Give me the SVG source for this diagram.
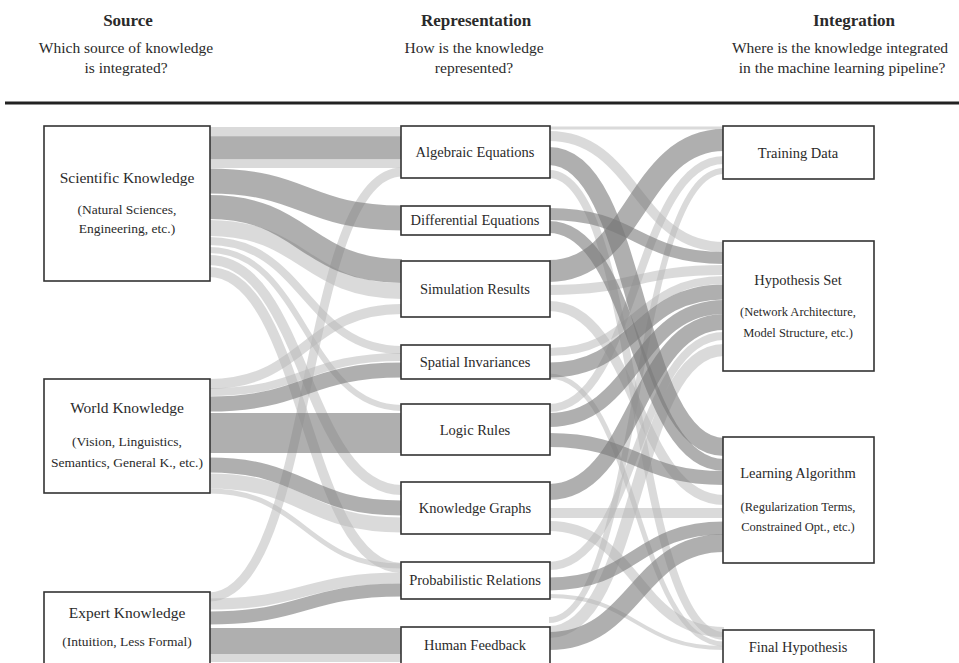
<svg xmlns="http://www.w3.org/2000/svg" width="959" height="663" viewBox="0 0 959 663">
<style>
text{font-family:"Liberation Serif","DejaVu Serif",serif;fill:#2a2a2a;text-anchor:middle}
.h{font-size:17px;font-weight:bold}
.s{font-size:15.5px}
.t{font-size:15.5px}
.m{font-size:14.5px}
.sub{font-size:12.5px}
.subl{font-size:13.5px}
.box{fill:#fff;stroke:#333;stroke-width:1.6}
.d{fill:none;stroke:#7a7a7a;stroke-opacity:0.6}
.l{fill:none;stroke:#b5b5b5;stroke-opacity:0.5}
</style>
<rect width="959" height="663" fill="#fff"/>
<g id="header">
<text class="h" x="128" y="26">Source</text>
<text class="s" x="126" y="53">Which source of knowledge</text>
<text class="s" x="126" y="73">is integrated?</text>
<text class="h" x="476" y="26">Representation</text>
<text class="s" x="474" y="53">How is the knowledge</text>
<text class="s" x="474" y="73">represented?</text>
<text class="h" x="854" y="26">Integration</text>
<text class="s" x="840" y="53">Where is the knowledge integrated</text>
<text class="s" x="842" y="73">in the machine learning pipeline?</text>
<line x1="5" y1="103" x2="959" y2="103" stroke="#222" stroke-width="3"/>
</g>
<g id="connectors">
<!-- left light -->
<path class="l" stroke-width="10" d="M209 132 L402 132"/>
<path class="l" stroke-width="8" d="M209 164 L402 164"/>
<path class="l" stroke-width="16" d="M209 228 C305 228 305 291 402 291"/>
<path class="l" stroke-width="8" d="M209 241 C305 241 305 350 402 350"/>
<path class="l" stroke-width="6" d="M209 250 C305 250 305 408 402 408"/>
<path class="l" stroke-width="10" d="M209 260 C305 260 305 490 402 490"/>
<path class="l" stroke-width="10" d="M209 272 C305 272 305 568 402 568"/>
<path class="l" stroke-width="10" d="M209 384 C305 384 305 309 402 309"/>
<path class="l" stroke-width="8" d="M209 392 C305 392 305 357 402 357"/>
<path class="l" stroke-width="15" d="M209 481 C305 481 305 525 402 525"/>
<path class="l" stroke-width="5" d="M209 491 C305 491 305 566 402 566"/>
<path class="l" stroke-width="9" d="M209 597 C315 597 300 172 402 172"/>
<path class="l" stroke-width="11" d="M209 604 C305 604 305 578 402 578"/>
<path class="l" stroke-width="8" d="M209 658 L402 658"/>
<!-- right light -->
<path class="l" stroke-width="3" d="M549 128 L724 128"/>
<path class="l" stroke-width="10" d="M549 136 C636 136 636 247 724 247"/>
<path class="l" stroke-width="8" d="M549 174 C640 174 632 636 724 636"/>
<path class="l" stroke-width="10" d="M549 290 C636 290 636 270 724 270"/>
<path class="l" stroke-width="10" d="M549 306 C636 306 636 500 724 500"/>
<path class="l" stroke-width="8" d="M549 352 C636 352 636 280 724 280"/>
<path class="l" stroke-width="5" d="M549 376 C636 376 636 644 724 644"/>
<path class="l" stroke-width="8" d="M549 408 C636 408 636 160 724 160"/>
<path class="l" stroke-width="10" d="M549 513 L724 513"/>
<path class="l" stroke-width="10" d="M549 526 C636 526 636 632 724 632"/>
<path class="l" stroke-width="8" d="M549 566 C636 566 636 336 724 336"/>
<path class="l" stroke-width="4" d="M549 596 C636 596 636 648 724 648"/>
<path class="l" stroke-width="12" d="M549 632 C640 632 632 350 724 350"/>
<path class="l" stroke-width="6" d="M549 620 C640 620 632 171 724 171"/>
<!-- left dark -->
<path class="d" stroke-width="23" d="M209 148 L402 148"/>
<path class="d" stroke-width="25" d="M209 181 C305 181 305 218 402 218"/>
<path class="d" stroke-width="24" d="M209 207 C305 207 305 271 402 271"/>
<path class="d" stroke-width="15" d="M209 404 C305 404 305 370 402 370"/>
<path class="d" stroke-width="40" d="M209 433 L402 433"/>
<path class="d" stroke-width="15" d="M209 465 C305 465 305 508 402 508"/>
<path class="d" stroke-width="13" d="M209 618 C305 618 305 590 402 590"/>
<path class="d" stroke-width="26" d="M209 641 L402 641"/>
<!-- right dark -->
<path class="d" stroke-width="18" d="M549 156 C640 156 632 447 724 447"/>
<path class="d" stroke-width="12" d="M549 214 C636 214 636 258 724 258"/>
<path class="d" stroke-width="12" d="M549 227 C636 227 636 465 724 465"/>
<path class="d" stroke-width="22" d="M549 271 C636 271 636 140 724 140"/>
<path class="d" stroke-width="15" d="M549 370 C636 370 636 292 724 292"/>
<path class="d" stroke-width="14" d="M549 420 C636 420 636 307 724 307"/>
<path class="d" stroke-width="14" d="M549 440 C636 440 636 478 724 478"/>
<path class="d" stroke-width="16" d="M549 492 C636 492 636 322 724 322"/>
<path class="d" stroke-width="13" d="M549 584 C636 584 636 528 724 528"/>
<path class="d" stroke-width="18" d="M549 641 C636 641 636 543 724 543"/>
</g>
<g id="sci"><rect class="box" x="44" y="126" width="166" height="155"/>
<text class="t" x="127" y="183">Scientific Knowledge</text>
<text class="subl" x="127" y="214">(Natural Sciences,</text>
<text class="subl" x="127" y="233">Engineering, etc.)</text></g>
<g id="world"><rect class="box" x="44" y="379" width="166" height="114"/>
<text class="t" x="127" y="413">World Knowledge</text>
<text class="subl" x="127" y="446">(Vision, Linguistics,</text>
<text class="subl" x="127" y="467">Semantics, General K., etc.)</text></g>
<g id="expert"><rect class="box" x="44" y="592" width="166" height="100"/>
<text class="t" x="127" y="618">Expert Knowledge</text>
<text class="subl" x="127" y="646">(Intuition, Less Formal)</text></g>
<g id="alg"><rect class="box" x="401" y="126" width="149" height="52"/>
<text class="m" x="475" y="157">Algebraic Equations</text></g>
<g id="diff"><rect class="box" x="401" y="206" width="149" height="29"/>
<text class="m" x="475" y="225">Differential Equations</text></g>
<g id="sim"><rect class="box" x="401" y="261" width="149" height="56"/>
<text class="m" x="475" y="294">Simulation Results</text></g>
<g id="spatial"><rect class="box" x="401" y="345" width="149" height="34"/>
<text class="m" x="475" y="367">Spatial Invariances</text></g>
<g id="logic"><rect class="box" x="401" y="404" width="149" height="51"/>
<text class="m" x="475" y="435">Logic Rules</text></g>
<g id="kg"><rect class="box" x="401" y="482" width="149" height="52"/>
<text class="m" x="475" y="513">Knowledge Graphs</text></g>
<g id="prob"><rect class="box" x="401" y="562" width="149" height="37"/>
<text class="m" x="475" y="585">Probabilistic Relations</text></g>
<g id="human"><rect class="box" x="401" y="627" width="149" height="60"/>
<text class="m" x="475" y="650">Human Feedback</text></g>
<g id="training"><rect class="box" x="723" y="126" width="151" height="53"/>
<text class="m" x="798" y="158">Training Data</text></g>
<g id="hyp"><rect class="box" x="723" y="241" width="151" height="130"/>
<text class="m" x="798" y="285">Hypothesis Set</text>
<text class="sub" x="798" y="316">(Network Architecture,</text>
<text class="sub" x="798" y="337">Model Structure, etc.)</text></g>
<g id="la"><rect class="box" x="723" y="437" width="151" height="126"/>
<text class="m" x="798" y="478">Learning Algorithm</text>
<text class="sub" x="798" y="511">(Regularization Terms,</text>
<text class="sub" x="798" y="531">Constrained Opt., etc.)</text></g>
<g id="final"><rect class="box" x="723" y="630" width="151" height="60"/>
<text class="m" x="798" y="652">Final Hypothesis</text></g>
</svg>
